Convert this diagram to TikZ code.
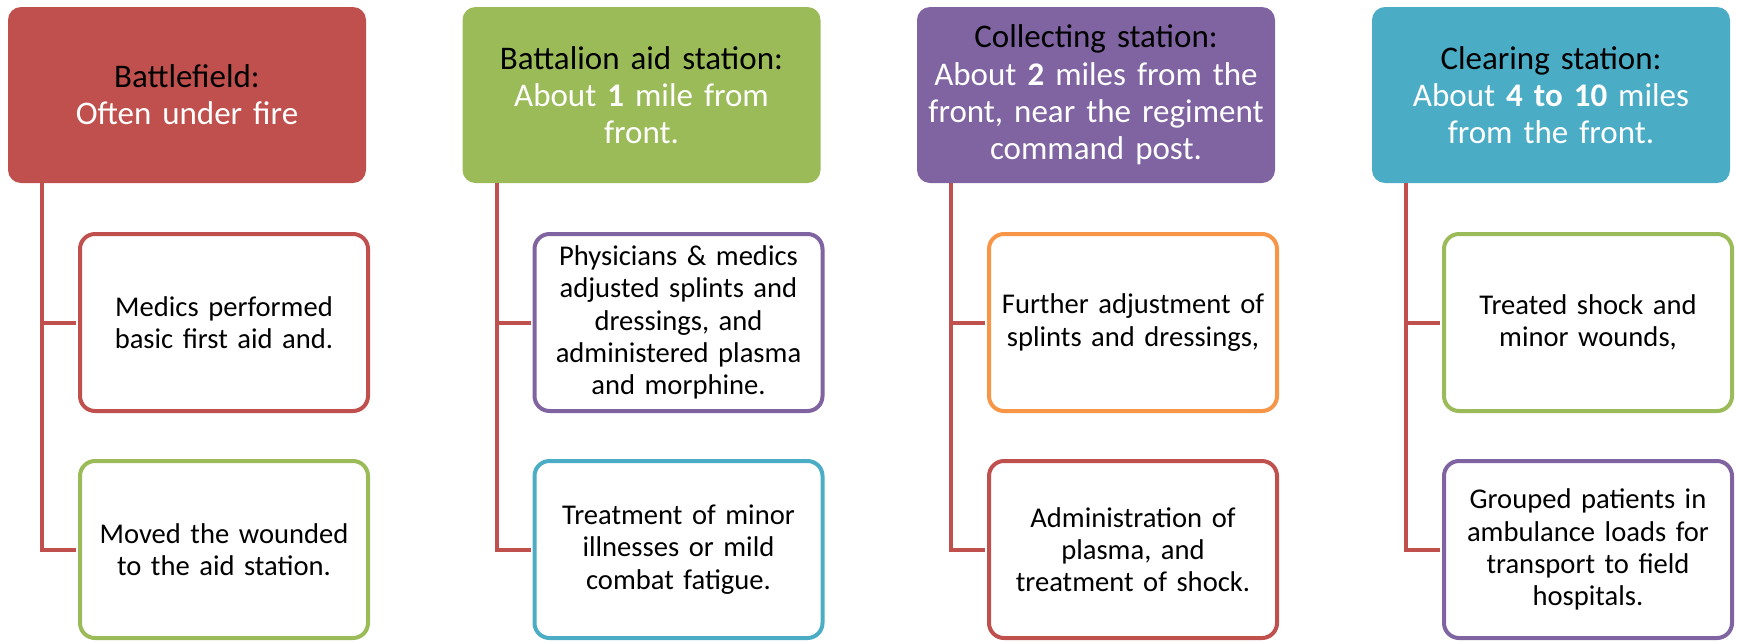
\documentclass[tikz,border=0pt]{standalone}
\usepackage{fontspec}
\setmainfont{Carlito}
\definecolor{ored}{HTML}{C0504D}
\definecolor{ogreen}{HTML}{9BBB59}
\definecolor{opurple}{HTML}{8064A2}
\definecolor{oaqua}{HTML}{4BACC6}
\definecolor{oorange}{HTML}{F79646}
\tikzset{
  hdr/.style={rectangle, rounded corners=13pt, minimum width=358pt, minimum height=176pt,
    inner sep=0pt, align=center, text width=345pt, font=\fontsize{33}{37.3}\selectfont, text=white},
  child/.style={rectangle, rounded corners=15pt, line width=4pt, fill=white, minimum width=288pt,
    minimum height=177pt, inner sep=0pt, align=center, text width=284pt,
    font=\fontsize{28.6}{32.2}\selectfont, text=black},
  conn/.style={draw=ored, line width=4pt}
}
\begin{document}
\begin{tikzpicture}[x=1pt,y=-1pt]
\useasboundingbox (0,0) rectangle (1737,641);
% column 1
\node[hdr, fill=ored] (h1) at (187,95) {\textcolor{black}{Battlefield:}\\Often under fire};
\node[child, draw=ored] (c11) at (224,322.5) {Medics performed\\basic first aid and.};
\node[child, draw=ogreen] (c12) at (224,549.5) {Moved the wounded\\to the aid station.};
\coordinate (t1) at (42,183);
% column 2
\node[hdr, fill=ogreen] (h2) at (641.5,95) {\textcolor{black}{Battalion aid station:}\\About \textbf{1} mile from\\front.};
\node[child, draw=opurple] (c21) at (678.5,322.5) {Physicians \& medics\\adjusted splints and\\dressings, and\\administered plasma\\and morphine.};
\node[child, draw=oaqua] (c22) at (678.5,549.5) {Treatment of minor\\illnesses or mild\\combat fatigue.};
\coordinate (t2) at (496.5,183);
% column 3
\node[hdr, fill=opurple] (h3) at (1096,95) {\textcolor{black}{Collecting station:}\\About \textbf{2} miles from the\\front, near the regiment\\command post.};
\node[child, draw=oorange] (c31) at (1133,322.5) {Further adjustment of\\splints and dressings,};
\node[child, draw=ored] (c32) at (1133,549.5) {Administration of\\plasma, and\\treatment of shock.};
\coordinate (t3) at (951,183);
% column 4
\node[hdr, fill=oaqua] (h4) at (1551,95) {\textcolor{black}{Clearing station:}\\About \textbf{4 to 10} miles\\from the front.};
\node[child, draw=ogreen] (c41) at (1588,322.5) {Treated shock and\\minor wounds,};
\node[child, draw=opurple] (c42) at (1588,549.5) {Grouped patients in\\ambulance loads for\\transport to field\\hospitals.};
\coordinate (t4) at (1405.5,183);
% connectors
\foreach \i in {1,2,3,4}{
  \draw[conn] (t\i) |- ([xshift=-2pt]c\i2.west);
  \draw[conn] (c\i1.west -| t\i) -- ([xshift=-2pt]c\i1.west);
}
\end{tikzpicture}
\end{document}
